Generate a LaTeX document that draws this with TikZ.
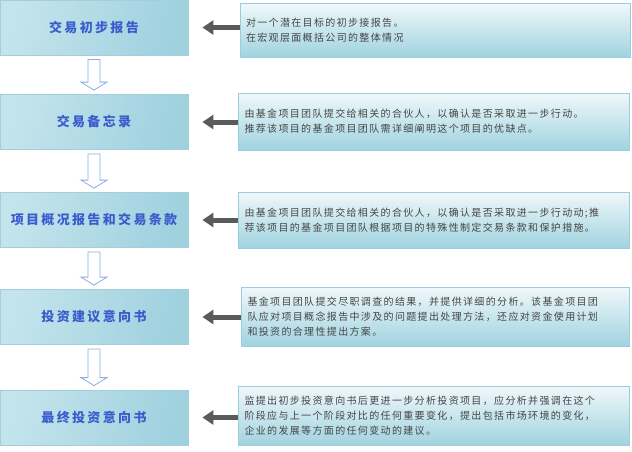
\documentclass[tikz,border=0pt]{standalone}
\usepackage{fontspec}
\newfontfamily\cjkt[LetterSpace=13.5]{Noto Sans CJK SC}
\newfontfamily\cjkh[LetterSpace=18]{Noto Sans CJK SC}
\usetikzlibrary{arrows.meta,calc}
\definecolor{lborder}{HTML}{A3CFDC}
\definecolor{ltext}{HTML}{3A5CCC}
\definecolor{lA}{HTML}{C4E4EC}
\definecolor{lB}{HTML}{E4F2F6}
\definecolor{lC}{HTML}{9FD1DF}
\definecolor{rborder}{HTML}{98CEDD}
\definecolor{rtop}{HTML}{F0F8FA}
\definecolor{rbot}{HTML}{A0D3E0}
\definecolor{rtext}{HTML}{454545}
\definecolor{garr}{HTML}{5B5B5B}
\definecolor{harr}{HTML}{8AAEE0}
\newcommand\hollowarr[2]{%
  \draw[harrow] let \p1=(#1.south), \p2=(#2.north) in
    (\x1-6pt,\y1-4pt) -- (\x1+6pt,\y1-4pt) -- (\x1+6pt,\y2+12pt) --
    (\x1+13pt,\y2+12pt) -- (\x1,\y2+4pt) -- (\x1-13pt,\y2+12pt) --
    (\x1-6pt,\y2+12pt) -- cycle;}
\begin{document}
\begin{tikzpicture}[x=1pt,y=-1pt,
  lbox/.style={draw=lborder, line width=0.8pt, minimum width=188pt,
    minimum height=55pt, inner sep=0pt,
    left color=lA, middle color=lB, right color=lC, shading angle=75,
    font=\cjkh\bfseries\fontsize{13}{15}\selectfont, text=ltext},
  rbox/.style={draw=rborder, line width=0.8pt, top color=rtop, bottom color=rbot,
    align=left, inner xsep=6pt, inner ysep=0pt,
    font=\cjkt\fontsize{10}{15}\selectfont, text=rtext},
  harrow/.style={draw=harr, line width=0.8pt, fill=white, line join=miter},
  garrow/.style={draw=garr, line width=5pt, -{Triangle[length=11pt,width=14pt]},
    shorten >=14pt}]
\useasboundingbox (0,0) rectangle (632,451);
\fill[white] (0,0) rectangle (632,451);

% left boxes
\node[lbox] (l1) at (94,27.5) {交易初步报告};
\node[lbox] (l2) at (94,122) {交易备忘录};
\node[lbox] (l3) at (94,220) {项目概况报告和交易条款};
\node[lbox] (l4) at (94,317) {投资建议意向书};
\node[lbox] (l5) at (94,417.5) {最终投资意向书};

% right boxes
\node[rbox, text width=378pt, minimum height=54pt] (r1) at (435,30)
  {对一个潜在目标的初步接报告。\\在宏观层面概括公司的整体情况};
\node[rbox, text width=379pt, minimum height=57pt] (r2) at (434,121.5)
  {由基金项目团队提交给相关的合伙人，以确认是否采取进一步行动。\\推荐该项目的基金项目团队需详细阐明这个项目的优缺点。};
\node[rbox, text width=379pt, minimum height=56pt] (r3) at (434,220)
  {由基金项目团队提交给相关的合伙人，以确认是否采取进一步行动动;推\\荐该项目的基金项目团队根据项目的特殊性制定交易条款和保护措施。};
\node[rbox, text width=376pt, minimum height=59pt] (r4) at (435.5,316.5)
  {基金项目团队提交尽职调查的结果，并提供详细的分析。该基金项目团\\队应对项目概念报告中涉及的问题提出处理方法，还应对资金使用计划\\和投资的合理性提出方案。};
\node[rbox, text width=379pt, minimum height=59pt] (r5) at (434,415.5)
  {监提出初步投资意向书后更进一步分析投资项目，应分析并强调在这个\\阶段应与上一个阶段对比的任何重要变化，提出包括市场环境的变化，\\企业的发展等方面的任何变动的建议。};

% hollow down arrows
\hollowarr{l1}{l2}
\hollowarr{l2}{l3}
\hollowarr{l3}{l4}
\hollowarr{l4}{l5}

% grey arrows
\foreach \i in {1,...,5}{
  \draw[garrow] (l\i.east -| r\i.west) -- (l\i.east);
}
\end{tikzpicture}
\end{document}
